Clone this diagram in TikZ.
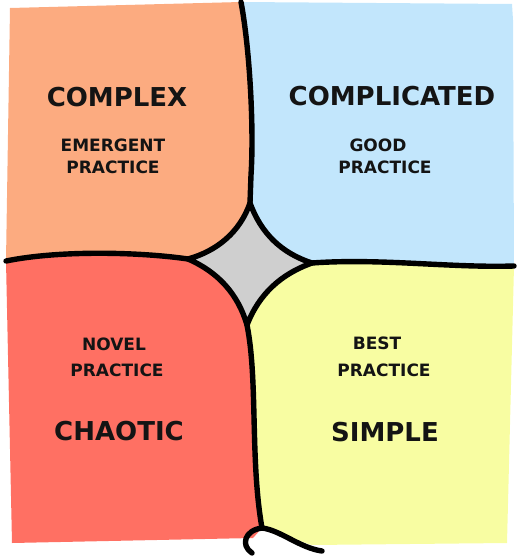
\documentclass[tikz,border=0pt]{standalone}
\usepackage{fontspec}
\setmainfont{DejaVu Sans}
\definecolor{orng}{HTML}{FCAB80}
\definecolor{blu}{HTML}{C2E6FC}
\definecolor{rd}{HTML}{FF7063}
\definecolor{ylw}{HTML}{F8FDA2}
\definecolor{gry}{HTML}{CFCFCF}
\definecolor{ink}{HTML}{141414}
\begin{document}
\begin{tikzpicture}[x=1pt,y=-1pt,
  edge/.style={line width=5.4pt,line cap=round,line join=round,draw=black},
  big/.style={font=\bfseries\fontsize{26}{26}\selectfont,text=ink,inner sep=0pt},
  small/.style={font=\bfseries\fontsize{17}{17}\selectfont,text=ink,inner sep=0pt}]
\useasboundingbox (0,0) rectangle (518,557);
% key points
\coordinate (T) at (250,203);
\coordinate (L) at (188,259);
\coordinate (R) at (312,263);
\coordinate (B) at (247,325);
\coordinate (C) at (249,262);
\coordinate (top) at (241,2);
\coordinate (left) at (6,261);
\coordinate (right) at (514,266);
\coordinate (foot) at (262,528);
\coordinate (hook) at (252,553);
\coordinate (tail) at (322,551);
% quadrant fills
\fill[orng] (10,8) -- (top) .. controls (250,50) and (254,130) .. (251,175) -- (T) -- (C) -- (L)
  .. controls (140,252) and (60,250) .. (left) -- cycle;
\fill[blu] (top) .. controls (250,50) and (254,130) .. (251,175) -- (T) -- (C) -- (R)
  .. controls (380,258) and (450,268) .. (right) -- (513,20) -- (512,4) -- cycle;
\fill[rd] (left) .. controls (60,250) and (140,252) .. (L) -- (C) -- (B)
  .. controls (258,380) and (250,460) .. (foot) -- (253,538) -- (12,543) -- cycle;
\fill[ylw] (C) -- (R) .. controls (380,258) and (450,268) .. (right) -- (507,543) -- (312,545)
  .. controls (295,540) and (275,530) .. (foot) .. controls (250,460) and (258,380) .. (B) -- cycle;
% lines
\draw[edge] (top) .. controls (250,50) and (254,130) .. (251,175) -- (T);
\draw[edge] (left) .. controls (60,250) and (140,252) .. (L);
\draw[edge] (R) .. controls (380,258) and (450,268) .. (right);
\draw[edge] (B) .. controls (258,380) and (250,460) .. (foot);
\draw[edge] (foot) .. controls (245,530) and (240,545) .. (hook);
\draw[edge] (foot) .. controls (280,530) and (300,548) .. (tail);
% diamond
\filldraw[edge,fill=gry] (T) .. controls (240,232) and (217,251) .. (L)
  .. controls (218,272) and (238,294) .. (B)
  .. controls (259,294) and (281,274) .. (R)
  .. controls (281,253) and (261,233) .. (T) -- cycle;
% labels
\node[big] (complex) at (117,97) {COMPLEX};
\node[small] (cx1) at (113,145) {EMERGENT};
\node[small] (cx2) at (113,167) {PRACTICE};
\node[big] (complicated) at (392,96) {COMPLICATED};
\node[small] (cd1) at (378,145) {GOOD};
\node[small] (cd2) at (385,167) {PRACTICE};
\node[small] (ch1) at (114,344) {NOVEL};
\node[small] (ch2) at (117,370) {PRACTICE};
\node[big] (chaotic) at (119,431) {CHAOTIC};
\node[small] (s1) at (377,343) {BEST};
\node[small] (s2) at (384,370) {PRACTICE};
\node[big] (simple) at (385,432) {SIMPLE};
\end{tikzpicture}
\end{document}
